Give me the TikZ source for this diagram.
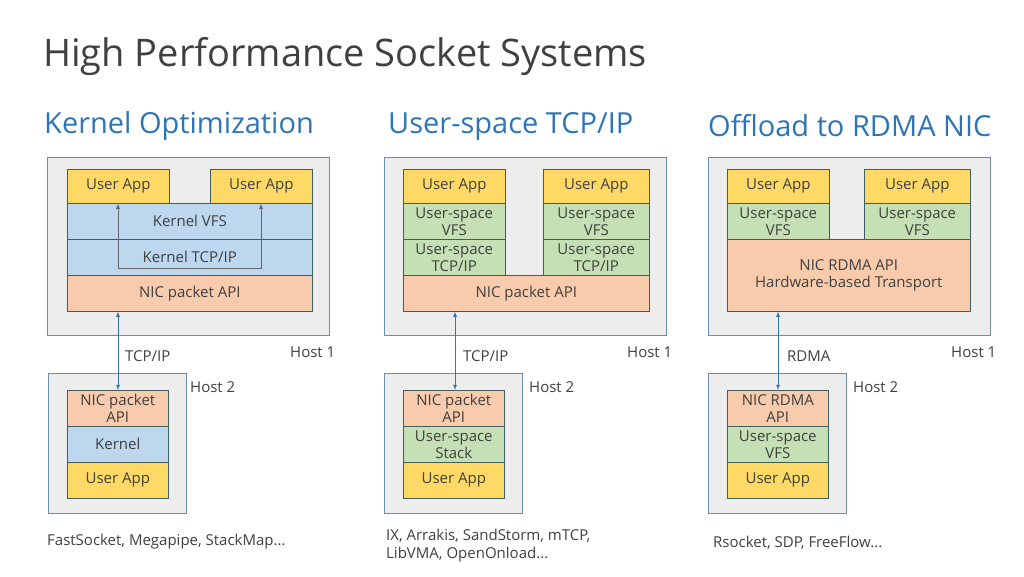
\documentclass[tikz,border=0pt]{standalone}
\usepackage{fontspec}
\setmainfont{Open Sans}
\begin{document}
\begin{tikzpicture}[x=1pt,y=-1pt,
 host/.style={draw=hostb,fill=hostf,line width=0.8pt,anchor=north west,inner sep=0},
 lay/.style={draw=layb,line width=0.6pt,anchor=north west,inner sep=0,align=center,text=txt,font=\fontsize{15}{17}\selectfont},
 ua/.style={lay,fill=uaf},
 kb/.style={lay,fill=kbf},
 nic/.style={lay,fill=nicf},
 us/.style={lay,fill=usf},
 lbl/.style={text=txt,font=\fontsize{15}{18}\selectfont,anchor=west,inner sep=0},
 head/.style={text=headc,font=\fontsize{29}{34}\selectfont,anchor=west,inner sep=0},
 link/.style={draw=linkc,line width=0.8pt,<->,>=latex}]
\definecolor{hostb}{HTML}{6F8FAF}\definecolor{hostf}{HTML}{EDEDED}
\definecolor{layb}{HTML}{3F5F5F}\definecolor{txt}{HTML}{404040}
\definecolor{uaf}{HTML}{FFD966}\definecolor{kbf}{HTML}{BDD7EE}
\definecolor{nicf}{HTML}{F8CBAD}\definecolor{usf}{HTML}{C5E0B4}
\definecolor{headc}{HTML}{2E75B6}\definecolor{linkc}{HTML}{2E75B6}
\useasboundingbox[fill=white] (0,0) rectangle (1024,576);
\node[anchor=west,inner sep=0,text=txt,font=\fontsize{38}{44}\selectfont] (title) at (43,57) {High Performance Socket Systems};
\node[head] (h1) at (44,126) {Kernel Optimization};
\node[head] (h2) at (388,126) {User-space TCP/IP};
\node[head] (h3) at (708,126) {Offload to RDMA NIC};
% Panel 1
\node[host,minimum width=282,minimum height=178] (p1h1) at (47,157) {};
\node[ua,minimum width=102,minimum height=34] (p1a1) at (67,169) {User App};
\node[ua,minimum width=102,minimum height=34] (p1a2) at (210,169) {User App};
\node[kb,minimum width=245,minimum height=36] (p1vfs) at (67,203) {Kernel VFS};
\node[kb,minimum width=245,minimum height=36] (p1tcp) at (67,239) {Kernel TCP/IP};
\node[nic,minimum width=245,minimum height=36] (p1nic) at (67,275) {NIC packet API};
\coordinate (p1c1) at (118,268); \coordinate (p1c2) at (261,268);
\draw[draw=gray!80!black,line width=0.8pt,->,>=latex] (p1c1) -- (p1a1.south -| p1c1);
\draw[draw=gray!80!black,line width=0.8pt,->,>=latex] (p1c1) -- (p1c2) -- (p1a2.south -| p1c2);
\node[lbl] (p1host1) at (290,352) {Host 1};
\node[host,minimum width=138,minimum height=140] (p1h2) at (48,373) {};
\node[nic,minimum width=101,minimum height=36] (p1n2) at (67,390) {NIC packet\\API};
\node[kb,minimum width=101,minimum height=36] (p1k2) at (67,426) {Kernel};
\node[ua,minimum width=101,minimum height=36] (p1u2) at (67,462) {User App};
\node[lbl] (p1host2) at (190,387) {Host 2};
\draw[link] (p1nic.south -| 118,0) -- (p1n2.north -| 118,0);
\node[lbl] (p1l) at (125,356) {TCP/IP};
\node[lbl] (p1cap) at (47,542) {FastSocket, Megapipe, StackMap...};
% Panel 2
\node[host,minimum width=282,minimum height=178] (p2h1) at (384,157) {};
\node[ua,minimum width=102,minimum height=34] (p2a1) at (403,169) {User App};
\node[ua,minimum width=106,minimum height=34] (p2a2) at (543,169) {User App};
\node[us,minimum width=102,minimum height=36] (p2v1) at (403,203) {User-space\\VFS};
\node[us,minimum width=106,minimum height=36] (p2v2) at (543,203) {User-space\\VFS};
\node[us,minimum width=102,minimum height=36] (p2t1) at (403,239) {User-space\\TCP/IP};
\node[us,minimum width=106,minimum height=36] (p2t2) at (543,239) {User-space\\TCP/IP};
\node[nic,minimum width=246,minimum height=36] (p2nic) at (403,275) {NIC packet API};
\node[lbl] (p2host1) at (627,352) {Host 1};
\node[host,minimum width=138,minimum height=140] (p2h2) at (384,373) {};
\node[nic,minimum width=101,minimum height=36] (p2n2) at (403,390) {NIC packet\\API};
\node[us,minimum width=101,minimum height=36] (p2k2) at (403,426) {User-space\\Stack};
\node[ua,minimum width=101,minimum height=36] (p2u2) at (403,462) {User App};
\node[lbl] (p2host2) at (529,387) {Host 2};
\draw[link] (p2nic.south -| 455,0) -- (p2n2.north -| 455,0);
\node[lbl] (p2l) at (463,356) {TCP/IP};
\node[lbl,align=left] (p2cap) at (386,546) {IX, Arrakis, SandStorm, mTCP,\\LibVMA, OpenOnload...};
% Panel 3
\node[host,minimum width=282,minimum height=178] (p3h1) at (708,157) {};
\node[ua,minimum width=102,minimum height=34] (p3a1) at (727,169) {User App};
\node[ua,minimum width=106,minimum height=34] (p3a2) at (864,169) {User App};
\node[us,minimum width=102,minimum height=36] (p3v1) at (727,203) {User-space\\VFS};
\node[us,minimum width=106,minimum height=36] (p3v2) at (864,203) {User-space\\VFS};
\node[nic,minimum width=243,minimum height=72] (p3nic) at (727,239) {NIC RDMA API\\Hardware-based Transport};
\node[lbl] (p3host1) at (951,352) {Host 1};
\node[host,minimum width=138,minimum height=140] (p3h2) at (708,373) {};
\node[nic,minimum width=101,minimum height=36] (p3n2) at (727,390) {NIC RDMA\\API};
\node[us,minimum width=101,minimum height=36] (p3k2) at (727,426) {User-space\\VFS};
\node[ua,minimum width=101,minimum height=36] (p3u2) at (727,462) {User App};
\node[lbl] (p3host2) at (853,387) {Host 2};
\draw[link] (p3nic.south -| 778,0) -- (p3n2.north -| 778,0);
\node[lbl] (p3l) at (787,356) {RDMA};
\node[lbl] (p3cap) at (713,543) {Rsocket, SDP, FreeFlow...};
\end{tikzpicture}
\end{document}
